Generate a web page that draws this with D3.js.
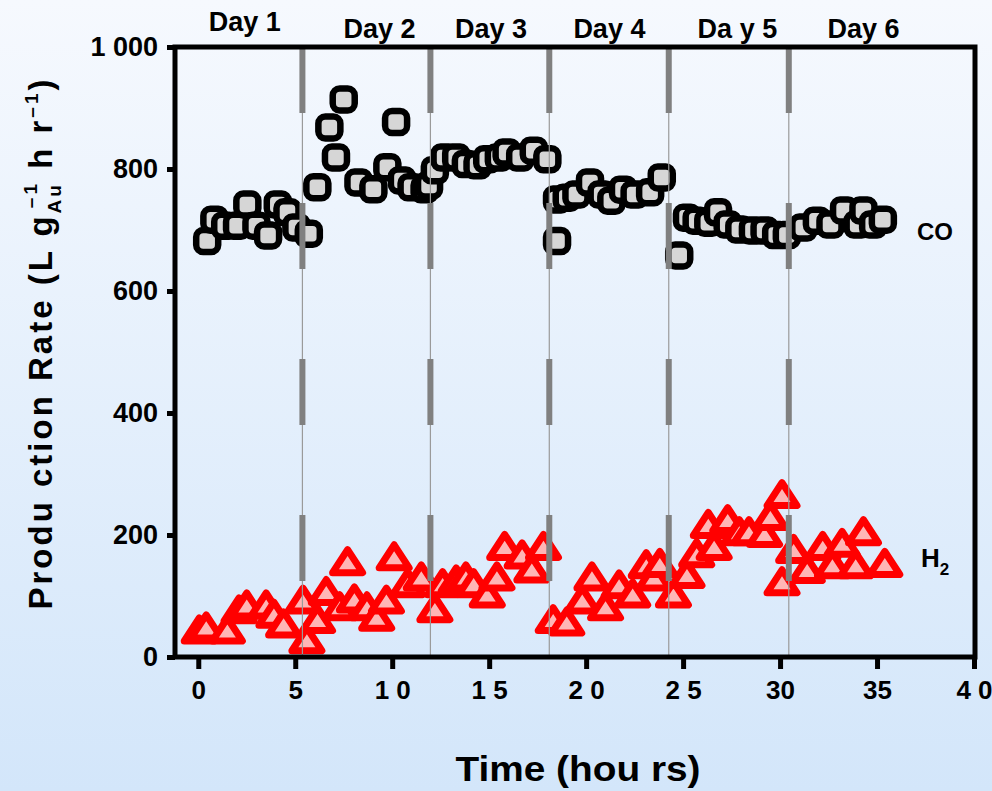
<!DOCTYPE html>
<html lang="en">
<head>
<meta charset="UTF-8">
<title>Production rate</title>
<script src="https://cdn.jsdelivr.net/npm/d3@7"></script>
<style>
  html, body { margin: 0; padding: 0; }
  svg { display: block; }
  text { font-family: "Liberation Sans", Arial, sans-serif; font-weight: bold; fill: #000; }
</style>
</head>
<body>
<svg id="chart" width="992" height="791"></svg>
<script>

// CO production rate (hours, L g-1 hr-1)
const coHours = [0.46, 0.83, 1.39, 2.0, 2.53, 3.0, 3.6, 4.1, 4.6, 5.06, 5.7,
    6.14, 6.76, 7.1, 7.5, 8.26, 9.03, 9.75, 10.2, 10.5, 11.0, 11.67, 11.9, 12.2,
    12.7, 13.3, 13.8, 14.4, 14.9, 15.5, 15.9, 16.6, 17.3, 18.0,
    18.5, 18.5, 19.0, 19.5, 20.2, 20.8, 21.3, 21.9, 22.5, 23.3, 23.9,
    24.8, 25.2, 25.7, 26.3, 26.8, 27.3, 27.9, 28.6, 29.2, 29.8,
    30.35, 31.2, 31.9, 32.6, 33.3, 34.0, 34.3, 34.8, 35.3];
const coRate = [682, 717, 707, 707, 742, 707, 691, 742, 729, 704, 694,
    770, 868, 819, 914, 778, 767, 803, 877, 781, 770, 767, 773, 798,
    819, 819, 808, 806, 816, 819, 827, 819, 830, 816,
    750, 682, 753, 758, 778, 758, 748, 766, 758, 762, 786,
    658, 720, 715, 712, 729, 709, 701, 699, 699, 692,
    692, 704, 715, 709, 732, 709, 732, 709, 717];

// H2 production rate
const h2Hours = [0.05, 0.41, 1.5, 2.1, 2.5, 3.5, 3.9, 4.4, 5.4, 5.6,
    6.15, 6.6, 7.3, 7.7, 8.05, 8.7, 9.2, 9.7, 10.1, 10.8,
    11.5, 12.2, 12.6, 13.3, 13.8, 14.2, 14.9, 15.4, 15.8, 16.7,
    17.2, 17.8, 18.3, 19.0, 19.8, 20.3, 21.0, 21.7, 22.4, 23.1,
    23.5, 23.8, 24.5, 25.2, 25.7, 26.3, 26.6, 27.3, 27.9, 28.4,
    29.2, 29.5, 30.1, 30.1, 30.7, 31.4, 32.2, 32.7, 33.2, 33.9,
    34.3, 35.4];
const h2Rate = [41, 46, 41, 74, 82, 82, 67, 51, 90, 25,
    58, 104, 79, 153, 92, 79, 62, 90, 161, 117,
    128, 76, 117, 123, 128, 117, 100, 128, 178, 164,
    141, 178, 58, 54, 90, 128, 79, 115, 100, 148,
    128, 150, 100, 132, 166, 214, 178, 222, 202, 202,
    199, 227, 263, 120, 173, 140, 178, 148, 183, 148,
    202, 150];

// day separators and labels
const dayBreaks = [5.37, 11.97, 18.1, 24.26, 30.45];
const dayNames = ['Day 1', 'Day 2', 'Day 3', 'Day 4', 'Da y 5', 'Day 6'];
const dayLabelHours = [2.4, 9.35, 15.1, 21.2, 27.8, 34.3];

const xTicks = [0, 5, 10, 15, 20, 25, 30, 35, 40];
const xTickLabels = ['0', '5', '1 0', '1 5', '2 0', '2 5', '30', '35', '4 0'];
const yTicks = [0, 200, 400, 600, 800, 1000];
const yTickLabels = ['0', '200', '400', '600', '800', '1 000'];

const svg = d3.select('#chart');

// background gradient
const grad = svg.append('defs').append('linearGradient')
    .attr('id', 'bg').attr('x1', 0).attr('y1', 0).attr('x2', 0).attr('y2', 1);
grad.append('stop').attr('offset', 0).attr('stop-color', '#f6f9fe');
grad.append('stop').attr('offset', 1).attr('stop-color', '#d3e6fa');
svg.append('rect').attr('width', 992).attr('height', 791).attr('fill', 'url(#bg)');

const plotLeft = 175, plotRight = 975, plotTop = 47, plotBottom = 657;

const x = d3.scaleLinear().domain([-1.2, 40]).range([plotLeft, 974]);
const y = d3.scaleLinear().domain([0, 1000]).range([plotBottom, plotTop]);

// markers
const coPts = coHours.map((h, i) => ({ h: h, v: coRate[i] }));
const h2Pts = h2Hours.map((h, i) => ({ h: h, v: h2Rate[i] }));

svg.append('g').selectAll('path')
    .data(h2Pts)
    .join('path')
    .attr('transform', d => `translate(${x(d.h)},${y(d.v)})`)
    .attr('d', 'M0,-14L15,9L-15,9Z')
    .attr('fill', '#ffb5b5')
    .attr('stroke', '#ff0000')
    .attr('stroke-width', 7)
    .attr('stroke-linejoin', 'round');

svg.append('g').selectAll('rect')
    .data(coPts)
    .join('rect')
    .attr('x', d => x(d.h) - 11)
    .attr('y', d => y(d.v) - 11)
    .attr('width', 22)
    .attr('height', 22)
    .attr('rx', 7)
    .attr('fill', '#d6d6d6')
    .attr('stroke', '#000')
    .attr('stroke-width', 6.5);

// day separator lines, drawn over the markers
const sep = svg.append('g');
sep.selectAll('line.thin')
    .data(dayBreaks)
    .join('line')
    .attr('class', 'thin')
    .attr('x1', d => x(d)).attr('x2', d => x(d))
    .attr('y1', plotTop).attr('y2', plotBottom)
    .attr('stroke', '#9a9a9a')
    .attr('stroke-width', 1.2);
sep.selectAll('line.thick')
    .data(dayBreaks)
    .join('line')
    .attr('class', 'thick')
    .attr('x1', d => x(d)).attr('x2', d => x(d))
    .attr('y1', plotTop).attr('y2', plotBottom)
    .attr('stroke', '#808080')
    .attr('stroke-width', 6)
    .attr('stroke-dasharray', '66 90');

// frame
svg.append('rect')
    .attr('x', plotLeft).attr('y', plotTop)
    .attr('width', plotRight - plotLeft).attr('height', plotBottom - plotTop)
    .attr('fill', 'none')
    .attr('stroke', '#000')
    .attr('stroke-width', 5);

// axes
const xAxis = d3.axisBottom(x).tickValues(xTicks)
    .tickFormat((d, i) => xTickLabels[i]).tickSize(12).tickPadding(12);
const xg = svg.append('g')
    .attr('transform', `translate(0,${plotBottom})`)
    .call(xAxis);
xg.select('.domain').remove();
xg.selectAll('.tick line').attr('stroke', '#000').attr('stroke-width', 5);
xg.selectAll('.tick text')
    .style('font-size', '26px')
    .style('font-weight', 'bold')
    .style('font-family', '"Liberation Sans", Arial, sans-serif')
    .attr('fill', '#000');

const yAxis = d3.axisLeft(y).tickValues(yTicks)
    .tickFormat((d, i) => yTickLabels[i]).tickSize(8).tickPadding(9);
const yg = svg.append('g')
    .attr('transform', `translate(${plotLeft},0)`)
    .call(yAxis);
yg.select('.domain').remove();
yg.selectAll('.tick line').attr('stroke', '#000').attr('stroke-width', 5);
yg.selectAll('.tick text')
    .style('font-size', '27px')
    .style('font-weight', 'bold')
    .style('font-family', '"Liberation Sans", Arial, sans-serif')
    .attr('fill', '#000');

// day labels
svg.append('g').selectAll('text')
    .data(dayNames)
    .join('text')
    .attr('x', (d, i) => x(dayLabelHours[i]))
    .attr('y', (d, i) => i === 0 ? 31 : 38)
    .attr('text-anchor', 'middle')
    .style('font-size', '27px')
    .text(d => d);

// series labels
svg.append('text')
    .attr('x', 917).attr('y', 240)
    .style('font-size', '24px')
    .text('CO');
const h2Label = svg.append('text')
    .attr('x', 921).attr('y', 567)
    .style('font-size', '26px');
h2Label.append('tspan').text('H');
h2Label.append('tspan').attr('dy', 8).style('font-size', '17px').text('2');

// axis titles
svg.append('text')
    .attr('x', 578).attr('y', 781)
    .attr('text-anchor', 'middle')
    .attr('textLength', 245)
    .attr('lengthAdjust', 'spacingAndGlyphs')
    .style('font-size', '35px')
    .text('Time (hou rs)');

const yTitle = svg.append('text')
    .attr('transform', 'translate(52,343) rotate(-90)')
    .attr('text-anchor', 'middle')
    .style('font-size', '33px')
    .style('letter-spacing', '3px');
yTitle.append('tspan').text('Produ ction Rate (L g');
yTitle.append('tspan').attr('dy', 9).style('font-size', '19px').text('Au');
yTitle.append('tspan').attr('dy', -24).attr('dx', -26).style('font-size', '19px').text('–1');
yTitle.append('tspan').attr('dy', 15).style('font-size', '33px').text(' h r');
yTitle.append('tspan').attr('dy', -14).style('font-size', '19px').text('–1');
yTitle.append('tspan').attr('dy', 14).style('font-size', '33px').text(')');

</script>
</body>
</html>
